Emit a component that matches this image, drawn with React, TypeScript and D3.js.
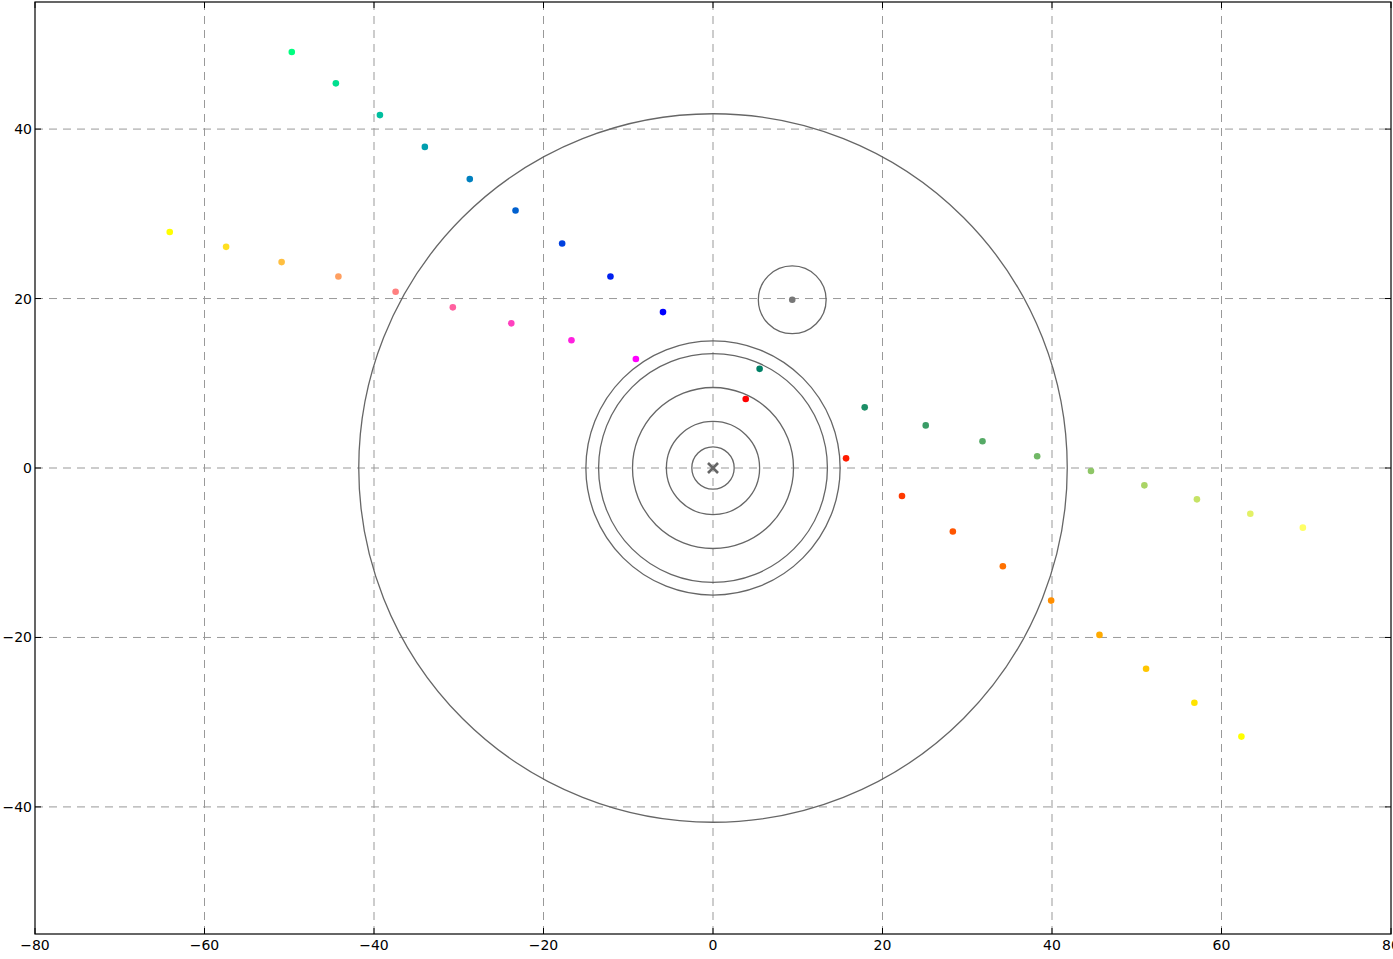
import React from 'react'
import * as d3 from 'd3'

// trajectory points
const winterX = [-49.7, -44.5, -39.3, -34.0, -28.7, -23.3, -17.8, -12.1, -5.9]
const winterY = [49.1, 45.4, 41.65, 37.9, 34.1, 30.4, 26.5, 22.6, 18.4]
const springX = [-64.1, -57.45, -50.9, -44.2, -37.45, -30.7, -23.8, -16.7, -9.1]
const springY = [27.85, 26.1, 24.3, 22.6, 20.8, 18.96, 17.07, 15.07, 12.86]
const summerX = [5.5, 17.9, 25.1, 31.8, 38.25, 44.6, 50.9, 57.1, 63.4, 69.6]
const summerY = [11.7, 7.16, 5.03, 3.15, 1.38, -0.35, -2.05, -3.7, -5.4, -7.04]
const autumnX = [3.86, 15.7, 22.3, 28.3, 34.2, 39.9, 45.6, 51.1, 56.8, 62.35]
const autumnY = [8.14, 1.14, -3.3, -7.5, -11.6, -15.65, -19.7, -23.7, -27.7, -31.7]

// small body with its own ring
const moonX = 9.35
const moonY = 19.85
const moonRing = 4.0

// rings round the centre
const ringRadii = [2.5, 5.5, 9.5, 13.5, 15.0, 41.8]

const xTicks = [-80, -60, -40, -20, 0, 20, 40, 60, 80]
const yTicks = [-40, -20, 0, 20, 40]

// matplotlib-like colormaps, t in [0,1]
const winter = (t: number) => d3.rgb(0, 255 * t, 255 * (1 - 0.5 * t)).toString()
const spring = (t: number) => d3.rgb(255, 255 * t, 255 * (1 - t)).toString()
const summer = (t: number) => d3.rgb(255 * t, 255 * (0.5 + 0.5 * t), 102).toString()
const autumn = (t: number) => d3.rgb(255, 255 * t, 0).toString()

const fmt = (v: number) => (v < 0 ? '\u2212' + Math.abs(v) : String(v))

export default function App() {
  const W = 1393
  const H = 959
  const left = 35, right = 1391, top = 2, bottom = 934

  const x = d3.scaleLinear().domain([-80, 80]).range([left, right])
  const y = d3.scaleLinear().domain([-55, 55]).range([bottom, top])
  const k = x(1) - x(0)

  const series = [
    { xs: winterX, ys: winterY, color: (i: number, n: number) => winter(1 - i / (n - 1)) },
    { xs: springX, ys: springY, color: (i: number, n: number) => spring(1 - i / (n - 1)) },
    { xs: summerX, ys: summerY, color: (i: number, n: number) => summer(i / (n - 1)) },
    { xs: autumnX, ys: autumnY, color: (i: number, n: number) => autumn(i / (n - 1)) },
  ]

  const font = { fontFamily: 'DejaVu Sans', fontSize: 14, fill: '#000' }
  const cx = x(0), cy = y(0)
  const m = 5

  return (
    <svg width={W} height={H} style={{ position: 'absolute', left: 0, top: 0, background: '#fff' }}>
      <rect x={0} y={0} width={W} height={H} fill="#fff" />
      <defs>
        <clipPath id="plot">
          <rect x={left} y={top} width={right - left} height={bottom - top} />
        </clipPath>
      </defs>

      {/* grid */}
      <g stroke="#999" strokeWidth={1} strokeDasharray="8,6">
        {xTicks.slice(1, -1).map(t => (
          <line key={'gx' + t} x1={x(t)} x2={x(t)} y1={top} y2={bottom} />
        ))}
        {yTicks.map(t => (
          <line key={'gy' + t} x1={left} x2={right} y1={y(t)} y2={y(t)} />
        ))}
      </g>

      <g clipPath="url(#plot)">
        {/* rings */}
        <g fill="none" stroke="#666" strokeWidth={1.3}>
          {ringRadii.map(r => (
            <circle key={r} cx={cx} cy={cy} r={r * k} />
          ))}
          <circle cx={x(moonX)} cy={y(moonY)} r={moonRing * k} />
        </g>

        {/* centre marker */}
        <g stroke="#666" strokeWidth={2.6}>
          <line x1={cx - m} y1={cy - m} x2={cx + m} y2={cy + m} />
          <line x1={cx - m} y1={cy + m} x2={cx + m} y2={cy - m} />
        </g>

        <circle cx={x(moonX)} cy={y(moonY)} r={3.3} fill="#777" />

        {series.map((s, si) => (
          <g key={si}>
            {s.xs.map((v, i) => (
              <circle key={i} cx={x(v)} cy={y(s.ys[i])} r={3.3} fill={s.color(i, s.xs.length)} />
            ))}
          </g>
        ))}
      </g>

      {/* ticks, inward on all sides */}
      <g stroke="#000" strokeWidth={1}>
        {xTicks.map(t => (
          <g key={'tx' + t}>
            <line x1={x(t)} x2={x(t)} y1={bottom} y2={bottom - 6} />
            <line x1={x(t)} x2={x(t)} y1={top} y2={top + 6} />
          </g>
        ))}
        {yTicks.map(t => (
          <g key={'ty' + t}>
            <line x1={left} x2={left + 6} y1={y(t)} y2={y(t)} />
            <line x1={right} x2={right - 6} y1={y(t)} y2={y(t)} />
          </g>
        ))}
      </g>

      {/* frame */}
      <rect x={left} y={top} width={right - left} height={bottom - top} fill="none" stroke="#000" strokeWidth={1.2} />

      {xTicks.map(t => (
        <text key={'lx' + t} x={x(t)} y={bottom + 16} textAnchor="middle" style={font}>
          {fmt(t)}
        </text>
      ))}
      {yTicks.map(t => (
        <text key={'ly' + t} x={left - 3} y={y(t) + 5} textAnchor="end" style={font}>
          {fmt(t)}
        </text>
      ))}
    </svg>
  )
}
